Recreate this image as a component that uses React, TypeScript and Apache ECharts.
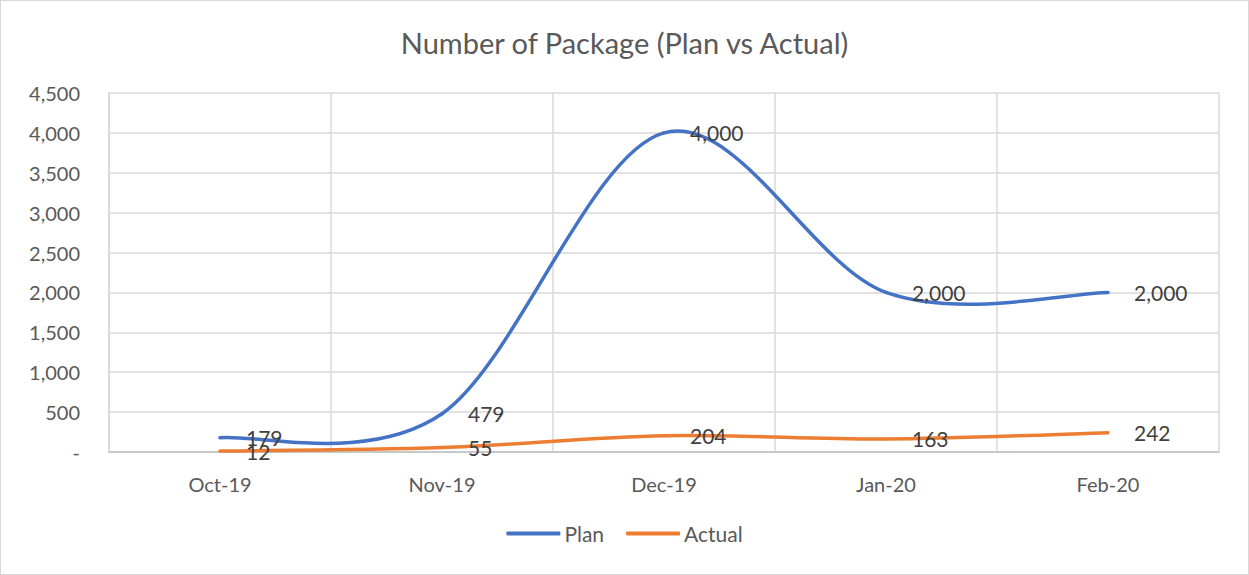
import React, { useEffect, useRef } from "react";
import * as echarts from "echarts";

const categories = ["Oct-19", "Nov-19", "Dec-19", "Jan-20", "Feb-20"];
const planValues = [179, 479, 4000, 2000, 2000];
const actualValues = [12, 55, 204, 163, 242];
const titleText = "Number of Package (Plan vs Actual)";

const FONT = "Lato, 'Noto Sans', sans-serif";
const GREY = "#595959";
const BLUE = "#4472C4";
const ORANGE = "#ED7D31";

const fmt = (v: number) => (v === 0 ? "-" : v.toLocaleString("en-US"));

// Excel-like smooth curve: cubic Bezier segments, Catmull-Rom tangents / 6
function curveSeries(values: number[], color: string, z: number) {
  const n = values.length;
  return {
    type: "custom",
    silent: true,
    z,
    data: values.slice(0, n - 1).map((v, i) => [i, v]),
    encode: { x: 0, y: 1 },
    renderItem: (params: any, api: any) => {
      const i = params.dataIndex;
      const P = (j: number) => {
        const k = Math.max(0, Math.min(n - 1, j));
        return api.coord([k, values[k]]);
      };
      const p0 = P(i - 1);
      const p1 = P(i);
      const p2 = P(i + 1);
      const p3 = P(i + 2);
      return {
        type: "bezierCurve",
        shape: {
          x1: p1[0],
          y1: p1[1],
          cpx1: p1[0] + (p2[0] - p0[0]) / 6,
          cpy1: p1[1] + (p2[1] - p0[1]) / 6,
          cpx2: p2[0] - (p3[0] - p1[0]) / 6,
          cpy2: p2[1] - (p3[1] - p1[1]) / 6,
          x2: p2[0],
          y2: p2[1],
        },
        style: { stroke: color, lineWidth: 3.5, fill: null, lineCap: "round" },
      };
    },
  };
}

export default function App() {
  const ref = useRef<HTMLDivElement>(null);
  useEffect(() => {
    document.body.style.margin = "0";
    const chart = echarts.init(ref.current!, null, { renderer: "svg" });
    const labelCfg = {
      show: true,
      position: "right" as const,
      distance: 26,
      fontSize: 21,
      color: "#404040",
      fontFamily: FONT,
      formatter: (p: any) => fmt(p.value),
    };
    chart.setOption({
      animation: false,
      title: {
        text: titleText,
        left: "center",
        top: 22,
        textStyle: { fontSize: 29, fontWeight: "normal", color: GREY, fontFamily: FONT },
      },
      grid: { left: 108, right: 29, top: 92, bottom: 122, containLabel: false },
      legend: {
        bottom: 25,
        left: "center",
        icon: "roundRect",
        itemWidth: 54,
        itemHeight: 4,
        itemGap: 22,
        textStyle: { fontSize: 21, color: GREY, fontFamily: FONT, padding: [0, 0, 0, -1] },
        data: [
          { name: "Plan", itemStyle: { color: BLUE } },
          { name: "Actual", itemStyle: { color: ORANGE } },
        ],
      },
      xAxis: {
        type: "category",
        data: categories,
        boundaryGap: true,
        axisLine: { show: true, lineStyle: { color: "#BFBFBF", width: 1.5 } },
        axisTick: { show: false },
        axisLabel: { fontSize: 20, color: GREY, fontFamily: FONT, margin: 22 },
        splitLine: { show: true, lineStyle: { color: "#D9D9D9", width: 1.5 } },
      },
      yAxis: {
        type: "value",
        min: 0,
        max: 4500,
        interval: 500,
        axisLine: { show: true, lineStyle: { color: "#D9D9D9", width: 1.5 } },
        axisTick: { show: false },
        axisLabel: {
          fontSize: 20,
          color: GREY,
          fontFamily: FONT,
          margin: 29,
          formatter: (v: number) => fmt(v),
        },
        splitLine: { show: true, lineStyle: { color: "#D9D9D9", width: 1.5 } },
      },
      series: [
        {
          name: "Plan",
          type: "line",
          data: planValues,
          symbol: "circle",
          symbolSize: 0,
          showSymbol: true,
          lineStyle: { color: BLUE, width: 0, opacity: 0 },
          itemStyle: { color: BLUE },
          label: labelCfg,
          z: 5,
        },
        {
          name: "Actual",
          type: "line",
          data: actualValues,
          symbol: "circle",
          symbolSize: 0,
          showSymbol: true,
          lineStyle: { color: ORANGE, width: 0, opacity: 0 },
          itemStyle: { color: ORANGE },
          label: labelCfg,
          z: 5,
        },
        curveSeries(planValues, BLUE, 3),
        curveSeries(actualValues, ORANGE, 2),
      ],
    });
    return () => chart.dispose();
  }, []);
  return (
    <div
      ref={ref}
      style={{
        width: 1249,
        height: 575,
        boxSizing: "border-box",
        border: "1.5px solid #D9D9D9",
        background: "#fff",
      }}
    />
  );
}
